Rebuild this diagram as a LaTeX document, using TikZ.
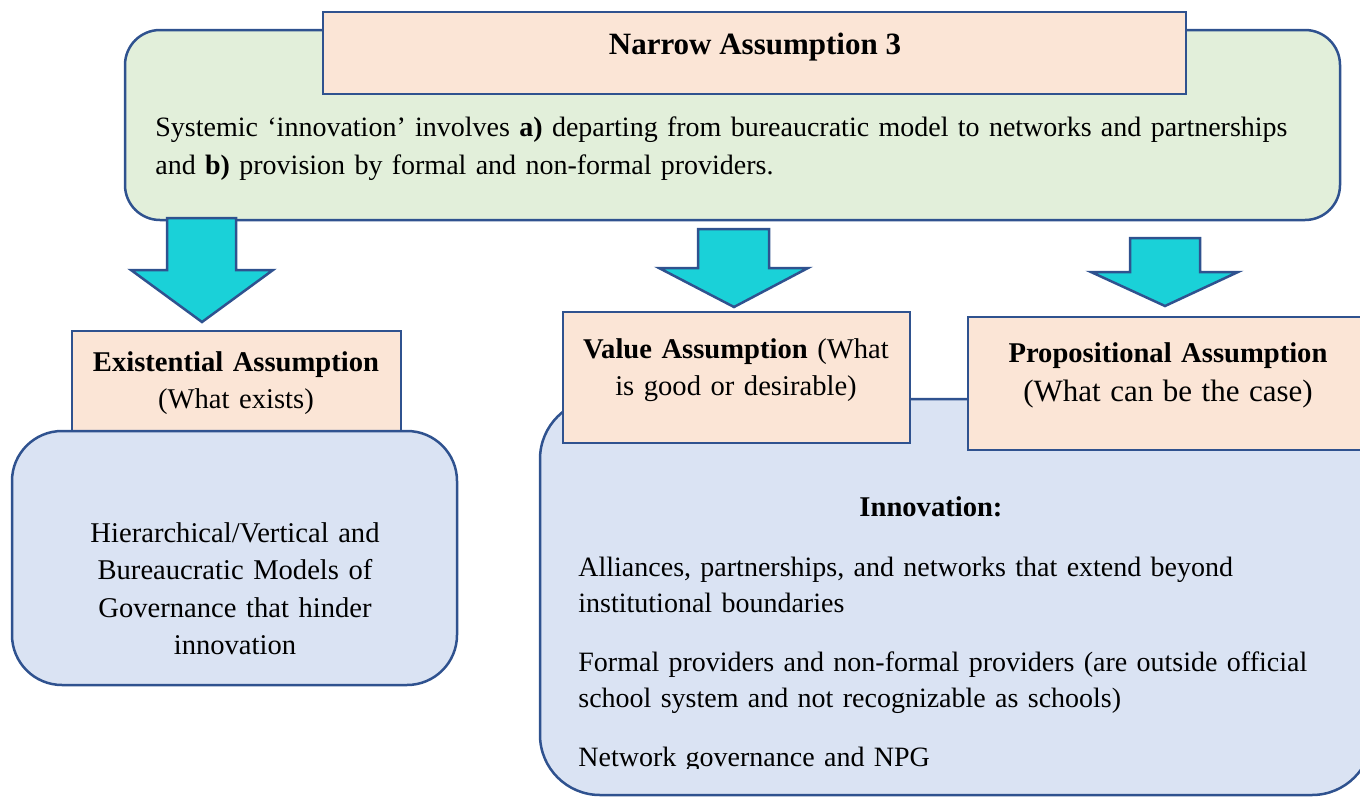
\documentclass[tikz,border=0pt]{standalone}
\usepackage{fontspec}
\setmainfont{Liberation Serif}
\usetikzlibrary{fit}
\definecolor{edge}{HTML}{2F528F}
\definecolor{sage}{HTML}{E2EFDA}
\definecolor{peach}{HTML}{FBE5D6}
\definecolor{mist}{HTML}{DAE3F3}
\definecolor{aquafill}{HTML}{1AD1D8}
\begin{document}
\begin{tikzpicture}[x=0.5pt,y=-0.5pt,
  box/.style={draw=edge, line width=1.25pt, inner sep=0pt},
  greenbox/.style={box, fill=sage, rounded corners=17.5pt},
  peachbox/.style={box, fill=peach},
  bluebox/.style={box, fill=mist},
  downarrow/.style={draw=edge, line width=1.25pt, fill=aquafill, line join=miter},
  body/.style={inner sep=0pt, font=\fontsize{14.3}{18.5}\selectfont},
  listtext/.style={inner sep=0pt, anchor=base west, text width=385pt, align=left,
                   font=\fontsize{14}{18}\selectfont},
  title/.style={inner sep=0pt, font=\bfseries\fontsize{15.5}{19}\selectfont}]
\useasboundingbox (0,0) rectangle (1360,798);

% top assumption panel
\node[greenbox, fit={(125,30) (1340,220)}] (narrow) {};
\node[peachbox, fit={(323,12) (1186,94)}] (narrowhead) {};
\node[title, anchor=base] (narrowtitle) at (755,54) {Narrow Assumption 3};
\node[body, anchor=base west, text width=600pt, align=left,
      font=\fontsize{14}{19}\selectfont] (narrowtext) at (155,136)
  {Systemic ‘innovation’ involves \textbf{a)} departing from bureaucratic model to networks and partnerships\\
   and \textbf{b)} provision by formal and non-formal providers.};

% block arrows
\draw[downarrow] (167,218) -- (236,218) -- (236,270) -- (273,270) -- (202,322) -- (131,270) -- (167,270) -- cycle;
\draw[downarrow] (698,229) -- (769,229) -- (769,268) -- (808,268) -- (734,307) -- (659,268) -- (698,268) -- cycle;
\draw[downarrow] (1130,238) -- (1200,238) -- (1200,272) -- (1238,272) -- (1165,306) -- (1091,272) -- (1130,272) -- cycle;

% existential assumption
\node[peachbox, fit={(72,331) (401,432)}] (exist) {};
\node[bluebox, rounded corners=25pt, fit={(12,431) (457,685)}] (hier) {};
\node[body, anchor=base, text width=170pt, align=center] (existtext) at (236,371)
  {\textbf{Existential Assumption}\\(What exists)};
\node[body, anchor=base, text width=200pt, align=center,
      font=\fontsize{14.3}{18.75}\selectfont] (hiertext) at (235,542)
  {Hierarchical/Vertical and\\ Bureaucratic Models of\\ Governance that hinder\\ innovation};

% innovation panel with value and propositional assumptions
\node[bluebox, rounded corners=30pt, fit={(540,399) (1372,795)}] (innov) {};
\node[peachbox, fit={(563,312) (910,443)}] (value) {};
\node[peachbox, fit={(968,317) (1368,450)}] (prop) {};
\node[body, anchor=base, text width=170pt, align=center] (valuetext) at (736,358)
  {\textbf{Value Assumption} (What\\ is good or desirable)};
\node[body, anchor=base, text width=190pt, align=center,
      font=\fontsize{14.3}{19.5}\selectfont] (proptext) at (1168,362)
  {\textbf{Propositional Assumption}\\ {\fontsize{15.5}{19.5}\selectfont (What can be the case)}};

\node[body, anchor=base, font=\bfseries\fontsize{14.3}{18}\selectfont] (innovhead) at (931,516) {Innovation:};
\begin{scope}
  \clip (545,420) rectangle (1360,768);
  \node[listtext] (alliances) at (578,576)
    {Alliances, partnerships, and networks that extend beyond\\ institutional boundaries};
  \node[listtext] (providers) at (578,671)
    {Formal providers and non-formal providers (are outside official\\ school system and not recognizable as schools)};
  \node[listtext] (npg) at (578,766) {Network governance and NPG};
\end{scope}
\end{tikzpicture}
\end{document}
